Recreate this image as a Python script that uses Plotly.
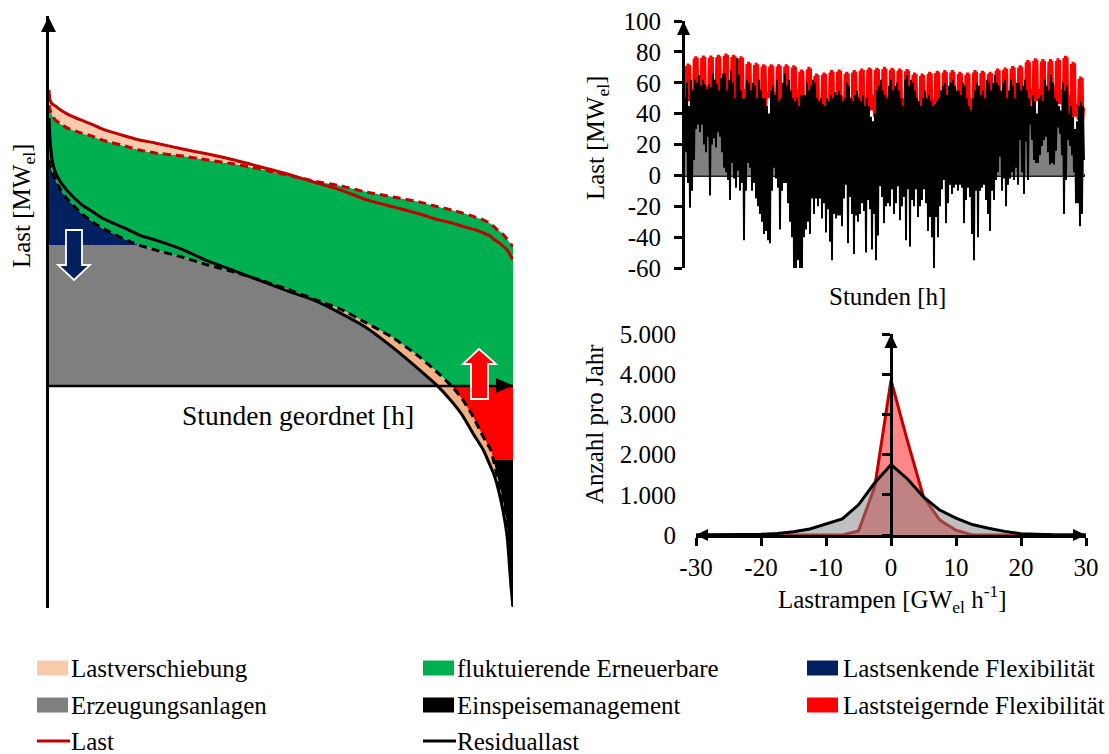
import numpy as np
import plotly.graph_objects as go

W, H = 1109, 754
FONT = "Liberation Serif"
FS = 25

# ---- left chart: sorted duration curves
hours_sorted = [0,20,60,120,220,350,600,800,1000,1500,1700,2000,2500,3000,3500,4000,4500,5000,5500,6000,6500,7000,7300,7600,7800,8000,8200,8350,8390,8450,8550,8650,8720,8760]
last_solid = [80.0,77.3,76.2,75.7,74.6,73.5,71.9,70.8,69.5,67.3,66.5,65.7,64.1,62.7,61.1,59.2,57.3,55.1,53.0,50.3,48.4,46.5,45.1,44.1,43.2,42.4,41.4,40.3,39.7,39.2,38.1,36.8,35.1,34.1]
last_dash = [75.9,74.6,73.2,71.9,70.8,69.7,68.4,67.6,66.5,64.6,63.8,63.0,62.2,61.1,60.0,58.6,57.0,55.4,54.1,52.4,51.1,49.7,48.6,47.6,46.8,45.9,44.9,43.8,43.2,42.4,41.4,39.7,38.4,37.6]
resid_solid = [72.4,66.5,61.1,57.8,55.1,52.7,49.2,47.3,45.4,42.2,40.8,39.5,37.0,33.8,31.1,28.4,25.7,23.2,19.7,15.7,10.3,4.3,0.5,-4.1,-7.8,-12.7,-17.3,-22.2,-23.5,-26.2,-32.2,-40.8,-53.8,-59.7]
resid_dash = [61.1,59.7,57.8,55.7,53.0,50.5,46.8,44.6,42.7,39.2,38.1,36.8,34.9,32.7,30.8,28.6,26.2,23.5,20.8,17.0,13.0,7.8,4.1,0.0,-3.5,-8.1,-13.8,-17.6,-20.0,-23.5,-29.5,-37.0,-52.4,-59.7]
gen_cap = 38.1
curtail_level = -20.0

# ---- top-right chart: weekly load, hourly residual bands
load_week_high = [72.5,77.2,77.6,77.6,78.2,79.0,78.2,77.2,73.6,73.0,72.0,72.0,72.0,72.0,71.4,68.6,70.3,66.0,66.7,68.2,68.6,67.1,68.2,69.2,69.9,69.7,70.3,69.7,69.2,68.9,66.7,66.0,67.1,67.8,68.2,68.2,67.1,66.7,68.2,67.8,67.1,69.2,69.9,70.8,71.4,74.7,75.8,75.3,75.3,75.8,77.5,73.6,64.0]
load_weekend_high = [56,58,58,59,59,60,59,56,54,56,54,54,54,53,56,51,52,48,48,50,51,50,51,51,52,52,52,51,50,48,48,50,50,48,48,48,48,50,50,50,51,52,54,54,56,56,56,56,58,56,52,46,44]
load_week_low = [48,42,50,46,52,50,48,50,46,48,45,50,44,46,40,45,42,38,44,36,42,38,40,36,42,38,40,36,34,38,42,38,40,40,38,40,36,35,38,42,40,38,40,42,45,45,48,44,50,46,40,38,36]

residual_hi = [
 50,60,45,62,55,62,60,65,58,62,
 59,56,59,57,66,62,59,55,63,66,
 66,55,62,68,60,50,76,65,55,50,
 50,62,60,55,60,58,50,62,55,50,
 50,45,40,55,58,52,62,48,50,60,
 66,58,62,55,50,48,50,45,52,52,
 52,60,55,58,62,60,50,
 48,50,46,45,50,48,52,50,54,52,
 55,52,48,50,60,58,50,48,52,55,
 50,48,52,45,50,45,38,35,40,55,
 58,62,55,52,50,58,62,55,58,60,
 55,50,45,62,65,58,62,60,55,50,
 48,45,50,55,50,52,48,45,46,48,
 50,55,58,60,52,58,60,62,58,55,
 55,52,60,58,50,45,42,50,55,60,
 58,52,55,50,62,60,55,60,65,60,
 58,55,60,62,50,55,62,58,50,60,
 60,55,58,62,55,50,45,52,48,40,
 50,52,48,62,58,55,65,60,50,48,
 45,42,60,55,58,40,45,38,30,35,
 45,48,45]
residual_lo = [
 15,-5,-21,-10,10,30,33,28,33,20,
 15,25,-13,20,24,18,28,25,15,5,
 2,-3,-16,8,-2,-8,3,-10,-5,-42,
 -10,8,5,-10,-5,-15,-20,-25,-30,-38,
 -36,-42,-44,-10,5,-2,-8,-35,-10,-5,
 -5,-18,-30,-40,-60,-62,-55,-60,-62,-40,
 -35,-30,-38,-15,-25,-15,-20,
 -15,-28,-18,-37,-22,-43,-55,-25,-28,-26,
 -26,-33,-15,-6,-44,-14,-25,-51,-26,-30,
 -25,-18,-23,-50,-16,-22,-48,-25,-55,-39,
 -7,-14,-31,-20,-18,-20,-9,-25,-18,-7,
 -29,-20,-14,-42,-9,-46,-16,-20,-9,-27,
 -20,-16,-9,-18,-36,-27,-40,-60,-27,-40,
 -20,-9,-3,-31,-18,-6,-12,-8,-6,-10,
 -6,-8,-31,-16,-8,-14,-38,-55,-10,-40,
 -10,-8,-6,-16,-25,-36,-10,-16,-3,2,
 12,-10,-2,-20,-6,-2,2,-3,5,-6,
 23,2,-12,22,-3,33,23,10,8,8,
 13,19,23,25,15,7,8,7,16,31,
 27,13,-25,-3,23,19,13,2,-18,-18,
 -33,-25,10]

# ---- bottom-right chart
ramp_bins = [-30,-25,-20,-17.5,-15,-12.5,-10,-7.5,-5,-2.5,0,2.5,5,7.5,10,12.5,15,17.5,20,25,30]
ramp_load = [0,0,0,0,0,0,0,0,100,1200,3850,2360,950,370,120,0,0,0,0,0,0]
ramp_resid = [0,5,20,40,80,150,270,400,750,1300,1750,1400,950,620,420,260,170,90,30,5,0]

top_ticks = [-60,-40,-20,0,20,40,60,80,100]
top_labels = ["-60","-40","-20","0","20","40","60","80","100"]
bottom_y_ticks = [0,1000,2000,3000,4000,5000]
bottom_y_labels = ["0","1.000","2.000","3.000","4.000","5.000"]
bottom_x_ticks = [-30,-20,-10,0,10,20,30]
bottom_x_labels = ["-30","-20","-10","0","10","20","30"]

legend_boxes = [("Lastverschiebung","#F8CBAD",37,69,668),("fluktuierende Erneuerbare","#00B050",423,455,668),
                ("Lastsenkende Flexibilität","#002060",807,841,668),("Erzeugungsanlagen","#7F7F7F",37,69,705),
                ("Einspeisemanagement","#000000",423,455,705),("Laststeigernde Flexibilität","#FF0000",807,841,705)]
legend_lines = [("Last","#C00000",37,69,741),("Residuallast","#000000",423,455,741)]

PX = lambda x: x / W
PY = lambda y: 1 - y / H

fig = go.Figure()

def band(x, up, lo, color, name):
    x = list(x)
    fig.add_trace(go.Scatter(x=x + x[::-1], y=list(up) + list(lo)[::-1], fill="toself", mode="lines",
                             line=dict(width=0), fillcolor=color, name=name, showlegend=False,
                             hoverinfo="skip", xaxis="x", yaxis="y"))

h = np.array(hours_sorted, float)
ls, ld, rs, rd = map(lambda a: np.array(a, float), (last_solid, last_dash, resid_solid, resid_dash))
zero = np.zeros_like(h)

gray_top = np.clip(np.minimum(np.minimum(rs, rd), gen_cap), 0, None)
band(h, gray_top, zero, "#7F7F7F", "Erzeugungsanlagen")
m = rd >= gen_cap
band(h[m], rd[m], np.full(m.sum(), gen_cap), "#002060", "Lastsenkende Flexibilität")
band(h, ld, np.maximum(rd, 0), "#00B050", "fluktuierende Erneuerbare")
m = ls >= ld
band(h[m], ls[m], ld[m], "#F8CBAD", "Lastverschiebung")
m = rd >= rs
band(h[m], rd[m], rs[m], "#F4B183", "Lastverschiebung")
m = rd <= 0
band(h[m], np.zeros(m.sum()), np.maximum(rd[m], curtail_level), "#FF0000", "Laststeigernde Flexibilität")
m = rd <= curtail_level
band(h[m], np.full(m.sum(), curtail_level), rd[m], "#000000", "Einspeisemanagement")

for y, c, d, nm in [(last_dash, "#C00000", "8px,5px", "Last"), (last_solid, "#C00000", "solid", "Last"),
                    (resid_dash, "#000000", "8px,5px", "Residuallast"), (resid_solid, "#000000", "solid", "Residuallast")]:
    fig.add_trace(go.Scatter(x=hours_sorted, y=y, mode="lines", name=nm, showlegend=False, hoverinfo="skip",
                             line=dict(color=c, width=3, dash=d, shape="spline", smoothing=0.5), xaxis="x", yaxis="y"))

# top-right chart
week_h = 8760 / len(load_week_high)
lx, ly = [], []
for i, (hi, we, lo) in enumerate(zip(load_week_high, load_weekend_high, load_week_low)):
    for f, v in [(0.02, lo), (0.12, hi - 1.5), (0.22, lo), (0.32, hi), (0.42, lo), (0.52, hi), (0.62, lo), (0.72, hi - 1), (0.80, lo), (0.90, we)]:
        lx.append((i + f) * week_h)
        ly.append(v)
n = len(residual_hi)
col_h = 8760 / n
rx, ry = [], []
for i, (hi, lo) in enumerate(zip(residual_hi, residual_lo)):
    rx += [i * col_h, (i + 0.5) * col_h]
    ry += [hi, lo]
ry_arr = np.array(ry, float)
fig.add_trace(go.Scatter(x=rx, y=np.clip(ry_arr, 0, None), mode="lines", fill="tozeroy", fillcolor="#7F7F7F",
                         line=dict(width=0), name="Erzeugungsanlagen", showlegend=False, hoverinfo="skip", xaxis="x2", yaxis="y2"))
fig.add_trace(go.Scatter(x=lx, y=ly, mode="lines", line=dict(color="#FF0000", width=1.6), name="Last",
                         showlegend=False, hoverinfo="skip", xaxis="x2", yaxis="y2"))
fig.add_trace(go.Scatter(x=rx, y=ry, mode="lines", line=dict(color="#000000", width=1.9), name="Residuallast",
                         showlegend=False, hoverinfo="skip", xaxis="x2", yaxis="y2"))

# bottom-right chart
fig.add_trace(go.Scatter(x=ramp_bins, y=ramp_load, mode="lines", fill="tozeroy", fillcolor="rgba(255,0,0,0.47)",
                         line=dict(color="#C00000", width=3), name="Last", showlegend=False, hoverinfo="skip", xaxis="x3", yaxis="y3"))
fig.add_trace(go.Scatter(x=ramp_bins, y=ramp_resid, mode="lines", fill="tozeroy", fillcolor="rgba(127,127,127,0.5)",
                         line=dict(width=0), name="Residuallast", showlegend=False, hoverinfo="skip", xaxis="x3", yaxis="y3"))
fig.add_trace(go.Scatter(x=ramp_bins, y=ramp_resid, mode="lines", line=dict(color="#000000", width=3),
                         name="Residuallast", showlegend=False, hoverinfo="skip", xaxis="x3", yaxis="y3"))
fig.add_trace(go.Scatter(x=ramp_bins, y=ramp_resid, mode="lines", line=dict(width=0), showlegend=False, hoverinfo="skip", xaxis="x3", yaxis="y4"))

def tri(points, fill, line="rgba(0,0,0,0)", lw=0):
    path = "M" + " L".join(f"{PX(a):.5f},{PY(b):.5f}" for a, b in points) + " Z"
    return dict(type="path", xref="paper", yref="paper", path=path, fillcolor=fill, line=dict(color=line, width=lw), layer="above")

shapes = [
    dict(type="line", xref="x", yref="y", x0=0, x1=8760, y0=0, y1=0, line=dict(color="black", width=2.5), layer="above"),
    tri([(48.5, 17), (41, 32), (56, 32)], "black"),
    tri([(513, 385.5), (496, 378), (496, 393)], "black"),
    tri([(66, 230), (82, 230), (82, 265), (90, 265), (74, 280), (58, 265), (66, 265)], "#002060", "white", 1.8),
    tri([(479, 349), (496, 364), (488, 364), (488, 399), (471, 399), (471, 364), (463, 364)], "#FF0000", "white", 1.8),
    tri([(683.5, 21), (677, 35), (690, 35)], "black"),
    tri([(891, 334), (884.5, 348), (897.5, 348)], "black"),
    tri([(696, 535), (708, 529), (708, 541)], "black"),
    tri([(1086, 535), (1073, 529), (1073, 541)], "black"),
]
for _, c, x0, _, y in legend_boxes:
    shapes.append(dict(type="rect", xref="paper", yref="paper", x0=PX(x0), x1=PX(x0 + 31), y0=PY(y + 7.5), y1=PY(y - 7.5),
                       fillcolor=c, line=dict(width=0)))
for _, c, x0, _, y in legend_lines:
    shapes.append(dict(type="line", xref="paper", yref="paper", x0=PX(x0), x1=PX(x0 + 33), y0=PY(y), y1=PY(y), line=dict(color=c, width=3)))

def note(x, y, text, angle=0, xanchor="center", size=FS):
    return dict(x=PX(x), y=PY(y), xref="paper", yref="paper", text=text, showarrow=False, textangle=angle,
                xanchor=xanchor, yanchor="middle", font=dict(family=FONT, size=size, color="black"))

annotations = [
    note(24, 206, "Last [MW<sub>el</sub>]", -90),
    note(298, 415, "Stunden geordnet [h]", size=27.5),
    note(597, 138, "Last [MW<sub>el</sub>]", -90),
    note(887, 296, "Stunden [h]"),
    note(594, 424, "Anzahl pro Jahr", -90),
    note(892, 599, "Lastrampen [GW<sub>el</sub> h<sup>-1</sup>]"),
]
for t, _, _, x, y in legend_boxes + legend_lines:
    annotations.append(note(x, y, t, 0, "left"))

tick_font = dict(family=FONT, size=FS, color="black")
fig.update_layout(
    width=W, height=H, autosize=False, margin=dict(l=0, r=0, t=0, b=0, autoexpand=False), paper_bgcolor="white", plot_bgcolor="rgba(0,0,0,0)",
    showlegend=False, shapes=shapes, annotations=annotations, font=dict(family=FONT, size=FS, color="black"),
    xaxis=dict(domain=[PX(49), PX(513)], range=[0, 8760], visible=False, anchor="y"),
    yaxis=dict(domain=[PY(608), PY(16)], range=[-60, 100], showline=True, linecolor="black", linewidth=3, showgrid=False,
               zeroline=False, showticklabels=False, ticks="", anchor="x"),
    xaxis2=dict(domain=[PX(685), PX(1085)], range=[0, 8760], visible=False, anchor="y2"),
    yaxis2=dict(domain=[PY(268), PY(21)], range=[-60, 100], tickvals=top_ticks, ticktext=top_labels, ticks="outside", ticklen=8, tickwidth=2.5,
                tickcolor="black", showline=True, linecolor="black", linewidth=3, showgrid=False, zeroline=True,
                zerolinecolor="#222222", zerolinewidth=2.5, tickfont=tick_font, ticklabelstandoff=8, anchor="x2"),
    xaxis3=dict(domain=[PX(696), PX(1086)], range=[-30, 30], tickvals=bottom_x_ticks, ticktext=bottom_x_labels, ticks="outside", ticklen=8, tickwidth=2.5,
                tickcolor="black", showline=True, linecolor="black", linewidth=2.5, showgrid=False, zeroline=False,
                tickfont=tick_font, ticklabelstandoff=0, anchor="y3"),
    yaxis3=dict(domain=[PY(535), PY(334)], range=[0, 5000], tickvals=bottom_y_ticks, ticktext=bottom_y_labels, ticks="",
                showgrid=False, zeroline=False, showline=False, tickfont=tick_font, ticklabelstandoff=19, anchor="x3"),
    yaxis4=dict(domain=[PY(535), PY(334)], range=[0, 5000], tickvals=bottom_y_ticks, ticks="outside", ticklen=8, tickwidth=2.5,
                tickcolor="black", showticklabels=False, showgrid=False, zeroline=False, showline=True, linecolor="black", linewidth=3,
                overlaying="y3", anchor="free", position=PX(891), side="left"),
)

fig.write_html("out.html", post_script="document.body.style.margin='0';", config={"displayModeBar": False})
